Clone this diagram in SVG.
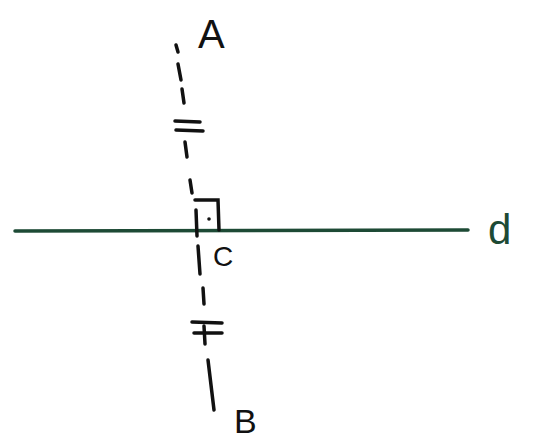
<svg xmlns="http://www.w3.org/2000/svg" width="550" height="442" viewBox="0 0 550 442">
<style>
.ink{stroke:#111;stroke-width:3.5;stroke-linecap:round;fill:none}
.lbl{font-family:"Liberation Sans",Arial,sans-serif;fill:#111}
</style>
<rect width="550" height="442" fill="#fff"/>
<g id="connectors">
<line id="d-line" x1="15" y1="231" x2="468" y2="230" stroke="#1d4a35" stroke-width="3.5" stroke-linecap="round"/>
<g id="segment-AB" class="ink">
<path d="M176,45 L178,52"/>
<path d="M178,64 L181,80"/>
<path d="M182,89 L184,103"/>
<path d="M185,142 L187,157"/>
<path d="M190,180 L192,193"/>
<path d="M196,210 L197,236"/>
<path d="M198,246 L200,274"/>
<path d="M203,288 L204,304"/>
<path d="M204,326 L205,344"/>
<path d="M208,360 L214,410"/>
</g>
<g id="ticks" class="ink">
<path d="M175,121 L200,122"/>
<path d="M176,130 L203,131"/>
<path d="M192,322 L222,323"/>
<path d="M194,333 L222,333"/>
</g>
<g id="right-angle" class="ink">
<path d="M195,200 L218,200 L219,230"/>
<circle cx="209" cy="219" r="1.8" fill="#111" stroke="none"/>
</g>
</g>
<g id="node-A"><text class="lbl" x="198" y="48" font-size="40">A</text></g>
<g id="node-C"><text class="lbl" x="213" y="266" font-size="28">C</text></g>
<g id="node-B"><text class="lbl" x="234" y="433" font-size="34">B</text></g>
<g id="node-d"><text class="lbl" x="488" y="244" font-size="42" fill="#1d4a35" style="fill:#1d4a35">d</text></g>
</svg>
